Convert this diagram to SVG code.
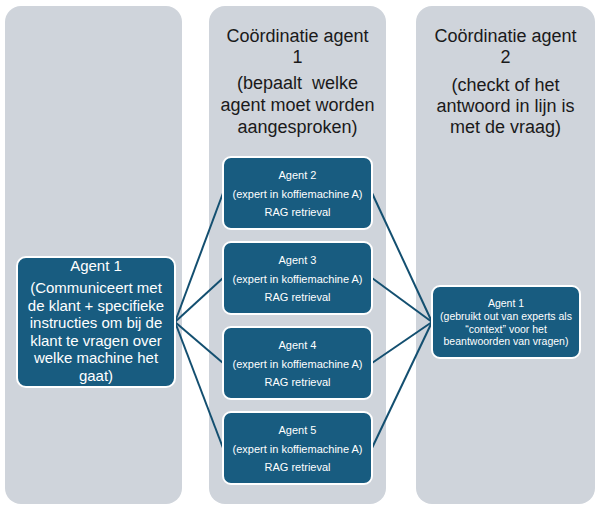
<svg xmlns="http://www.w3.org/2000/svg" width="599" height="514" viewBox="0 0 599 514">
<style>
.col{fill:#CFD4DB;}
.node{fill:#185C80;stroke:#FFFFFF;stroke-width:2;}
.hdr{font-family:"Liberation Sans",Arial,sans-serif;font-size:18px;fill:#1A1A1A;text-anchor:middle;white-space:pre;}
.t1{font-family:"Liberation Sans",Arial,sans-serif;font-size:15px;fill:#FFFFFF;text-anchor:middle;}
.t2{font-family:"Liberation Sans",Arial,sans-serif;font-size:11px;fill:#FFFFFF;text-anchor:middle;}
.t3{font-family:"Liberation Sans",Arial,sans-serif;font-size:10.5px;fill:#FFFFFF;text-anchor:middle;}
.edge{stroke:#134F70;stroke-width:2;fill:none;}
</style>
<rect width="599" height="514" fill="#FFFFFF"/>
<g id="columns">
<rect class="col" x="5" y="6" width="177" height="498" rx="16"/>
<rect class="col" x="209" y="6" width="177" height="498" rx="16"/>
<rect class="col" x="416" y="6" width="179" height="498" rx="16"/>
</g>
<g id="header2">
<text class="hdr" x="297.5" y="42">Coördinatie agent</text>
<text class="hdr" x="297.5" y="63">1</text>
<text class="hdr" x="297.5" y="89" xml:space="preserve">(bepaalt  welke</text>
<text class="hdr" x="297.5" y="111">agent moet worden</text>
<text class="hdr" x="297.5" y="133">aangesproken)</text>
</g>
<g id="header3">
<text class="hdr" x="505.5" y="42">Coördinatie agent</text>
<text class="hdr" x="505.5" y="63">2</text>
<text class="hdr" x="505.5" y="91">(checkt of het</text>
<text class="hdr" x="505.5" y="112">antwoord in lijn is</text>
<text class="hdr" x="505.5" y="133">met de vraag)</text>
</g>
<g id="connectors">
<line class="edge" x1="175" y1="322" x2="223" y2="193"/>
<line class="edge" x1="175" y1="322" x2="223" y2="278"/>
<line class="edge" x1="175" y1="322" x2="223" y2="363"/>
<line class="edge" x1="175" y1="322" x2="223" y2="448"/>
<line class="edge" x1="372" y1="193" x2="432" y2="322"/>
<line class="edge" x1="372" y1="278" x2="432" y2="322"/>
<line class="edge" x1="372" y1="363" x2="432" y2="322"/>
<line class="edge" x1="372" y1="448" x2="432" y2="322"/>
</g>
<g id="agent1-left">
<rect class="node" x="17" y="257" width="158" height="130" rx="9"/>
<text class="t1" x="96" y="271">Agent 1</text>
<text class="t1" x="96" y="293">(Communiceert met</text>
<text class="t1" x="96" y="310.5">de klant + specifieke</text>
<text class="t1" x="96" y="328">instructies om bij de</text>
<text class="t1" x="96" y="345.5">klant te vragen over</text>
<text class="t1" x="96" y="363">welke machine het</text>
<text class="t1" x="96" y="380.5">gaat)</text>
</g>
<g id="agent2">
<rect class="node" x="223" y="157" width="149" height="72" rx="8"/>
<text class="t2" x="297.5" y="179">Agent 2</text>
<text class="t2" x="297.5" y="198">(expert in koffiemachine A)</text>
<text class="t2" x="297.5" y="216">RAG retrieval</text>
</g>
<g id="agent3">
<rect class="node" x="223" y="242" width="149" height="72" rx="8"/>
<text class="t2" x="297.5" y="264">Agent 3</text>
<text class="t2" x="297.5" y="283">(expert in koffiemachine A)</text>
<text class="t2" x="297.5" y="301">RAG retrieval</text>
</g>
<g id="agent4">
<rect class="node" x="223" y="327" width="149" height="72" rx="8"/>
<text class="t2" x="297.5" y="349">Agent 4</text>
<text class="t2" x="297.5" y="368">(expert in koffiemachine A)</text>
<text class="t2" x="297.5" y="386">RAG retrieval</text>
</g>
<g id="agent5">
<rect class="node" x="223" y="412" width="149" height="72" rx="8"/>
<text class="t2" x="297.5" y="434">Agent 5</text>
<text class="t2" x="297.5" y="453">(expert in koffiemachine A)</text>
<text class="t2" x="297.5" y="471">RAG retrieval</text>
</g>
<g id="agent1-right">
<rect class="node" x="432" y="286" width="148" height="72" rx="8"/>
<text class="t3" x="506" y="307">Agent 1</text>
<text class="t3" x="506" y="320">(gebruikt out van experts als</text>
<text class="t3" x="506" y="332.5">“context” voor het</text>
<text class="t3" x="506" y="345">beantwoorden van vragen)</text>
</g>
</svg>
